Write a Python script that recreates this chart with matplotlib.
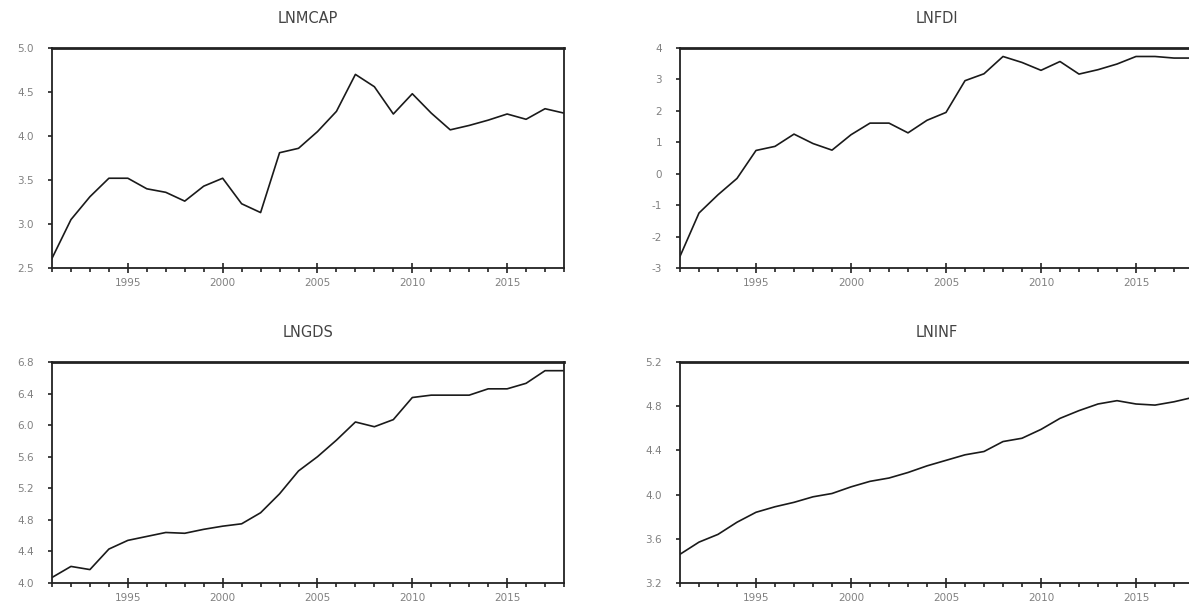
#!/usr/bin/env python3

import matplotlib
matplotlib.use('Agg')
import matplotlib.pyplot as plt
from matplotlib.ticker import MultipleLocator, FormatStrFormatter

years = list(range(1991, 2019))

lnmcap = [2.61, 3.05, 3.31, 3.52, 3.52, 3.40, 3.36, 3.26, 3.43, 3.52,
          3.23, 3.13, 3.81, 3.86, 4.05, 4.28, 4.70, 4.56, 4.25, 4.48,
          4.26, 4.07, 4.12, 4.18, 4.25, 4.19, 4.31, 4.26]

lnfdi = [-2.63, -1.25, -0.67, -0.15, 0.74, 0.87, 1.26, 0.96, 0.75, 1.24,
         1.61, 1.61, 1.30, 1.70, 1.95, 2.96, 3.18, 3.73, 3.54, 3.29,
         3.57, 3.17, 3.31, 3.49, 3.73, 3.73, 3.68, 3.68]

lngds = [4.07, 4.21, 4.17, 4.43, 4.54, 4.59, 4.64, 4.63, 4.68, 4.72,
         4.75, 4.89, 5.13, 5.42, 5.60, 5.81, 6.04, 5.98, 6.07, 6.35,
         6.38, 6.38, 6.38, 6.46, 6.46, 6.53, 6.69, 6.69]

lninf = [3.46, 3.57, 3.64, 3.75, 3.84, 3.89, 3.93, 3.98, 4.01, 4.07,
         4.12, 4.15, 4.20, 4.26, 4.31, 4.36, 4.39, 4.48, 4.51, 4.59,
         4.69, 4.76, 4.82, 4.85, 4.82, 4.81, 4.84, 4.88]

plt.rcParams['font.family'] = ['DejaVu Sans']

fig = plt.figure(figsize=(11.89, 6.06), dpi=100)

W, H = 1189.0, 606.0
# pixel boxes: left, top, right, bottom (right panels run past the edge)
boxes = [(52, 48, 564, 268), (680, 48, 1193, 268),
         (52, 362, 564, 583), (680, 362, 1193, 583)]
panels = [
    ('LNMCAP', lnmcap, 2.5, 5.0, 0.5, '%.1f'),
    ('LNFDI', lnfdi, -3, 4, 1, '%d'),
    ('LNGDS', lngds, 4.0, 6.8, 0.4, '%.1f'),
    ('LNINF', lninf, 3.2, 5.2, 0.4, '%.1f'),
]

for (l, t, r, b), (name, vals, ymin, ymax, step, fmt) in zip(boxes, panels):
    ax = fig.add_axes([l / W, 1 - b / H, (r - l) / W, (b - t) / H])
    ax.plot(years, vals, color='#1a1a1a', lw=1.2)
    ax.set_xlim(1991, 2018)
    ax.set_ylim(ymin, ymax)
    ax.set_xticks([1995, 2000, 2005, 2010, 2015])
    ax.xaxis.set_minor_locator(MultipleLocator(1))
    ax.yaxis.set_major_locator(MultipleLocator(step))
    ax.yaxis.set_major_formatter(FormatStrFormatter(fmt))
    ax.tick_params(axis='x', which='major', direction='inout', length=7, width=1.2,
                   pad=4, labelsize=7.5, labelcolor='#808080', color='#222222')
    ax.tick_params(axis='x', which='minor', direction='out', length=3, width=1.2,
                   color='#222222')
    ax.tick_params(axis='y', direction='out', length=3, width=1.2, pad=10,
                   labelsize=7.5, labelcolor='#808080', color='#222222')
    for s in ax.spines.values():
        s.set_linewidth(1.3)
        s.set_color('#222222')
    ax.spines['top'].set_linewidth(2.0)
    ax.set_title(name, fontsize=10.5, color='#444444', pad=18)

fig.savefig('out.png', dpi=100)
